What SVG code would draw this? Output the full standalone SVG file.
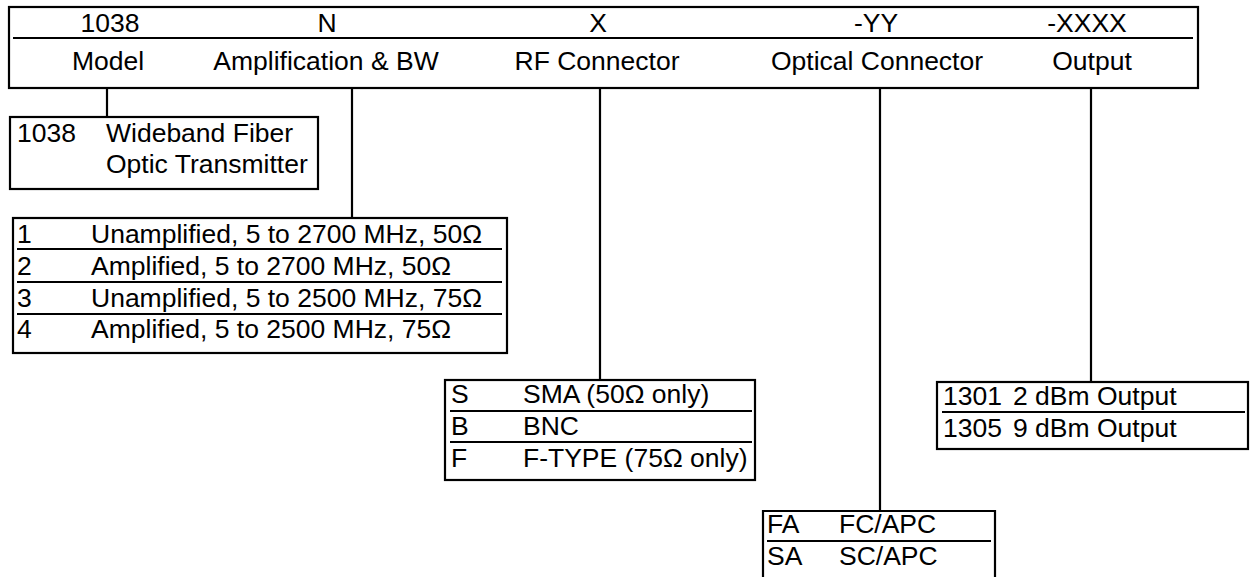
<svg xmlns="http://www.w3.org/2000/svg" width="1251" height="577" viewBox="0 0 1251 577">
<style>
  .box { fill: #fff; stroke: #000; stroke-width: 2.2; }
  .div { stroke: #000; stroke-width: 2.2; fill: none; }
  .conn { stroke: #000; stroke-width: 2.2; fill: none; }
  text { font-family: "Liberation Sans", Arial, sans-serif; font-size: 26.5px; fill: #000; }
  .c { text-anchor: middle; }
</style>
<rect width="1251" height="577" fill="#fff"/>
<g id="connectors">
  <line class="conn" x1="107" y1="88" x2="107" y2="117"/>
  <line class="conn" x1="352" y1="88" x2="352" y2="218"/>
  <line class="conn" x1="600" y1="88" x2="600" y2="380"/>
  <line class="conn" x1="880" y1="88" x2="880" y2="511"/>
  <line class="conn" x1="1091" y1="88" x2="1091" y2="382"/>
</g>
<g id="header">
  <rect class="box" x="9" y="7" width="1189" height="81"/>
  <line class="div" x1="13" y1="38" x2="1193" y2="38"/>
  <text class="c" x="110" y="32">1038</text>
  <text class="c" x="327" y="32">N</text>
  <text class="c" x="598" y="32">X</text>
  <text class="c" x="876" y="32">-YY</text>
  <text class="c" x="1087" y="32">-XXXX</text>
  <text class="c" x="108" y="70">Model</text>
  <text class="c" x="326" y="70">Amplification &amp; BW</text>
  <text class="c" x="597" y="70">RF Connector</text>
  <text class="c" x="877" y="70">Optical Connector</text>
  <text class="c" x="1092" y="70">Output</text>
</g>
<g id="model">
  <rect class="box" x="10" y="117" width="308" height="72"/>
  <text x="17" y="142">1038</text>
  <text x="106" y="142">Wideband Fiber</text>
  <text x="106" y="173">Optic Transmitter</text>
</g>
<g id="amplification">
  <rect class="box" x="13" y="218" width="494" height="135"/>
  <line class="div" x1="17" y1="249" x2="502" y2="249"/>
  <line class="div" x1="17" y1="282" x2="502" y2="282"/>
  <line class="div" x1="17" y1="314" x2="502" y2="314"/>
  <text x="17" y="243">1</text>
  <text x="91" y="243">Unamplified, 5 to 2700 MHz, 50Ω</text>
  <text x="17" y="275">2</text>
  <text x="91" y="275">Amplified, 5 to 2700 MHz, 50Ω</text>
  <text x="17" y="307">3</text>
  <text x="91" y="307">Unamplified, 5 to 2500 MHz, 75Ω</text>
  <text x="17" y="338">4</text>
  <text x="91" y="338">Amplified, 5 to 2500 MHz, 75Ω</text>
</g>
<g id="rf">
  <rect class="box" x="445" y="380" width="310" height="100"/>
  <line class="div" x1="450" y1="411" x2="752" y2="411"/>
  <line class="div" x1="450" y1="442" x2="752" y2="442"/>
  <text x="451" y="403">S</text>
  <text x="523" y="403">SMA (50Ω only)</text>
  <text x="451" y="435">B</text>
  <text x="523" y="435">BNC</text>
  <text x="451" y="467">F</text>
  <text x="523" y="467">F-TYPE (75Ω only)</text>
</g>
<g id="optical">
  <path class="div" d="M763,580 V511 H995 V580"/>
  <line class="div" x1="767" y1="541" x2="991" y2="541"/>
  <text x="767" y="533">FA</text>
  <text x="839" y="533">FC/APC</text>
  <text x="767" y="565">SA</text>
  <text x="839" y="565">SC/APC</text>
</g>
<g id="output">
  <rect class="box" x="937" y="382" width="311" height="67"/>
  <line class="div" x1="942" y1="412" x2="1245" y2="412"/>
  <text x="943" y="405">1301</text>
  <text x="1013" y="405">2 dBm Output</text>
  <text x="943" y="437">1305</text>
  <text x="1013" y="437">9 dBm Output</text>
</g>
</svg>
